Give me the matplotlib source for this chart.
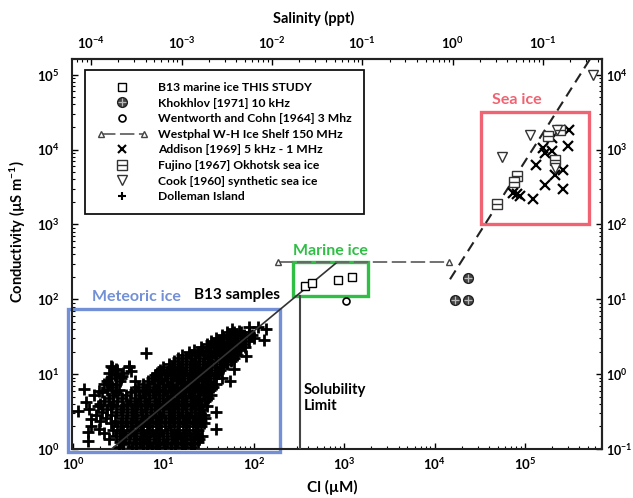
import numpy as np
import matplotlib
matplotlib.use("Agg")
import matplotlib.pyplot as plt
from matplotlib.lines import Line2D
from matplotlib.patches import Rectangle
from matplotlib.legend_handler import HandlerLine2D, HandlerTuple
from matplotlib.ticker import FixedLocator, FixedFormatter, LogLocator, NullFormatter

plt.rcParams["font.family"] = ["Lato", "DejaVu Sans"]
plt.rcParams["font.weight"] = "bold"
plt.rcParams["mathtext.fontset"] = "custom"
plt.rcParams["mathtext.rm"] = "Lato:bold"
plt.rcParams["mathtext.it"] = "Lato:bold"
plt.rcParams["mathtext.bf"] = "Lato:bold"

# ---------------- data: Cl (uM) vs conductivity (uS/m) ----------------
b13_cl = [368, 440, 853, 1220]
b13_cond = [149, 163, 179, 197]

khokhlov_cl = [23400, 16800, 23400]
khokhlov_cond = [190, 97, 97]

wentworth_cl = [1050]
wentworth_cond = [94]

westphal_cl = [185, 14500]
westphal_cond = [311, 311]

addison_cl = [3.09e5, 1.97e5, 3.0e5, 1.6e5, 1.97e5, 1.66e5, 2.65e5, 2.15e5,
              1.32e5, 1.66e5, 2.65e5, 7.4e4, 8.8e4, 8.1e4, 1.24e5]
addison_cond = [18500, 14300, 11100, 10500, 9500, 9000, 5400, 4640,
                6300, 3310, 2990, 2640, 2390, 2510, 2200]

fujino_cl = [1.81e5, 2.44e5, 2.15e5, 8.1e4, 7.6e4, 4.86e4]
fujino_cond = [15400, 18500, 7360, 4400, 3660, 1900]

cook_cl = [1.14e5, 5.52e4, 2.24e5, 2.15e5, 5.65e5]
cook_cond = [15800, 7900, 18500, 5700, 1.0e5]

# Dolleman Island firn samples: rows of (conductivity, [Cl values])
dolleman_rows = [
    (1.05, [3.2, 4.5, 6.0, 7.5, 9.0, 12, 16, 20]),
    (1.15, [3.6, 5.0, 6.6, 8.2, 10.5, 13.5, 17.5, 22]),
    (1.25, [3.3, 4.2, 5.5, 7.0, 9.0, 11, 14, 18, 24]),
    (1.37, [2.5, 3.5, 4.7, 6.0, 7.8, 9.8, 12.5, 15.5, 20, 25]),
    (1.5, [3.0, 3.8, 5.0, 6.5, 8.0, 10, 13, 17, 22, 27]),
    (1.65, [2.2, 3.3, 4.3, 5.6, 7.0, 8.8, 11, 14, 18, 23]),
    (1.8, [2.8, 3.6, 4.6, 6.0, 7.5, 9.5, 12, 15, 19, 24]),
    (2.0, [1.6, 3.1, 4.0, 5.2, 6.6, 8.3, 10.5, 13, 16.5, 21, 26]),
    (2.2, [2.6, 3.4, 4.4, 5.6, 7.0, 9.0, 11.5, 14.5, 18, 23, 28]),
    (2.4, [2.0, 2.9, 3.9, 5.0, 6.3, 8.2, 10.5, 13, 16.5, 21, 26]),
    (2.6, [2.3, 3.5, 4.5, 5.8, 7.5, 9.5, 12, 15, 19, 24, 29]),
    (2.85, [1.8, 2.6, 3.5, 4.6, 5.8, 7.3, 9.0, 11.5, 14.5, 18, 22.5, 28]),
    (3.1, [2.1, 3.0, 4.0, 5.0, 6.5, 8.0, 10, 13, 16, 20, 25]),
    (3.4, [1.5, 2.4, 3.4, 4.5, 5.7, 7.2, 9.0, 11.5, 14.5, 18, 22.5, 27]),
    (3.7, [1.9, 2.6, 3.6, 4.8, 6.2, 8.0, 10, 12.5, 16, 20, 25, 30]),
    (4.05, [2.0, 2.8, 4.0, 5.1, 6.6, 8.5, 10.8, 13.5, 17, 21, 26]),
    (4.4, [2.2, 3.1, 4.3, 5.5, 7.0, 9.0, 11.5, 14.5, 18, 23, 29]),
    (4.8, [2.5, 3.5, 4.9, 6.2, 8.0, 10, 12.5, 16, 20, 25, 31]),
    (5.2, [1.7, 2.8, 3.9, 5.4, 7.0, 9.0, 11, 14, 17.5, 22, 28, 34]),
    (5.7, [2.1, 3.0, 4.4, 5.9, 7.6, 9.8, 12, 15, 19, 24, 30]),
    (6.2, [2.4, 3.2, 4.8, 6.5, 8.2, 10.5, 13, 16.5, 21, 26, 33]),
    (6.8, [2.7, 5.3, 7.0, 9.0, 11.5, 14, 18, 22.5, 28, 35]),
    (7.4, [2.2, 3.0, 6.0, 7.8, 10, 12.5, 15.5, 19.5, 24, 30, 38]),
    (8.1, [2.4, 3.3, 6.8, 8.8, 11, 14, 17, 21.5, 27, 33]),
    (8.8, [2.6, 3.4, 7.5, 9.5, 12, 15, 18.5, 23, 29, 36, 44]),
    (9.6, [2.9, 8.0, 10.3, 13, 16, 20, 25, 31, 38]),
    (10.5, [2.5, 3.6, 8.5, 11, 13.5, 17, 21, 26, 32, 40]),
    (11.5, [3.1, 9.2, 11.8, 14.5, 18, 22.5, 28, 34, 42]),
    (12.5, [2.7, 4.2, 10, 12.5, 15.5, 19.5, 24, 30, 37, 46]),
    (13.7, [11.5, 14.5, 18, 22, 27.5, 34, 42, 50]),
    (15, [13, 16, 20, 25, 31, 38, 47, 56]),
    (16.5, [14.5, 18, 22.5, 28, 34, 42, 51, 60]),
    (18, [16, 20, 25, 31, 38, 46, 55, 66]),
    (19.5, [19, 24, 30, 36, 44, 53, 64]),
    (21, [22, 27, 33, 40, 48, 58, 70]),
    (23, [26, 32, 39, 47, 56, 68, 80]),
    (25, [30, 36, 43, 52, 62, 75]),
    (27.5, [34, 41, 50, 60, 72, 88]),
    (30, [38, 46, 55, 66, 80, 100]),
    (33, [44, 53, 64, 78, 95]),
    (36, [50, 60, 72, 88]),
]
dolleman_extra_cl = [6.4, 1.33, 1.39, 1.13, 1.58, 1.45, 1.45, 1.95, 2.63, 2.99,
                     4.2, 4.39, 1.95, 2.5, 3.5, 4.8, 38, 38, 54, 61, 82, 131,
                     136, 110, 89, 69, 58, 13.8, 17.8]
dolleman_extra_cond = [18.9, 6.3, 4.2, 3.2, 2.5, 1.69, 1.29, 1.85, 12.9, 11.7,
                       12.9, 11.1, 6.0, 7.4, 9.5, 8.1, 3.1, 1.85, 8.1, 11.7, 17.5,
                       29, 40, 42, 42, 38, 40, 1.43, 1.36]

# trend / reference lines
b13_trend_cl = [2.67, 832]
b13_trend_cond = [1.0, 312]
seawater_cl = [14800, 5.24e5]
seawater_cond = [185, 1.62e5]
solubility_cl = 324
solubility_cond_top = 110

# regions (Cl range, conductivity range)
meteoric_box = ((0.88, 195), (0.91, 73.6))
marine_box = ((272, 1833), (110, 311))
sea_box = ((32600, 510000), (1000, 32100))

salinity_per_cl = 6.3e-5
top_ticks = [1e-4, 1e-3, 1e-2, 1e-1, 1e0, 1e1]
top_labels = ["$10^{-4}$", "$10^{-3}$", "$10^{-2}$", "$10^{-1}$", "$10^{0}$", "$10^{-1}$"]
bottom_ticks = [1e0, 1e1, 1e2, 1e3, 1e4, 1e5]
bottom_labels = ["$10^{0}$", "$10^{1}$", "$10^{2}$", "$10^{3}$", "$10^{4}$", "$10^{5}$"]
left_ticks = [1e0, 1e1, 1e2, 1e3, 1e4, 1e5]
left_labels = ["$10^{0}$", "$10^{1}$", "$10^{2}$", "$10^{3}$", "$10^{4}$", "$10^{5}$"]
right_ticks = [1e-1, 1e0, 1e1, 1e2, 1e3, 1e4]
right_labels = ["$10^{-1}$", "$10^{0}$", "$10^{1}$", "$10^{2}$", "$10^{3}$", "$10^{4}$"]

BLUE = "#7390d6"
GREEN = "#2fbf45"
RED = "#ef6372"
DARK = "#222222"
TICK_FS = 9.5

fig = plt.figure(figsize=(6.33, 4.98), dpi=100)
ax = fig.add_axes([72 / 633, 49 / 498, 530 / 633, 390 / 498])
ax.set_xscale("log")
ax.set_yscale("log")
ax.set_xlim(0.975, 7.1e5)
ax.set_ylim(1.0, 1.62e5)

# Dolleman Island cloud
dol_cl, dol_cond = [], []
for cond, cls in dolleman_rows:
    dol_cl.extend(cls)
    dol_cond.extend([cond] * len(cls))
dol_cl += dolleman_extra_cl
dol_cond += dolleman_extra_cond
ax.plot(dol_cl, dol_cond, ls="none", marker="+", ms=8, mew=2.0, color="k", zorder=3)

# region boxes
for (x0, x1), (y0, y1), col in [(meteoric_box[0], meteoric_box[1], BLUE),
                                (marine_box[0], marine_box[1], GREEN),
                                (sea_box[0], sea_box[1], RED)]:
    ax.add_patch(Rectangle((x0, y0), x1 - x0, y1 - y0, fill=False, ec=col,
                           lw=2.4, zorder=2, clip_on=False))

# reference lines
ax.plot(b13_trend_cl, b13_trend_cond, color="#333", lw=1.2, zorder=4)
ax.plot([solubility_cl, solubility_cl], [1.0, solubility_cond_top], color="#444", lw=1.5, zorder=4)
ax.plot(seawater_cl, seawater_cond, color="#222", lw=1.5, ls=(0, (5, 3)), zorder=4)
ax.plot(westphal_cl, westphal_cond, color="#666", lw=1.3, ls=(0, (8, 2.5)),
        marker="^", ms=5, mfc="white", mec="#444", mew=1, zorder=4)

# measurements
ax.plot(b13_cl, b13_cond, ls="none", marker="s", ms=6, mfc="white", mec="k", mew=1, zorder=5)
ax.plot(khokhlov_cl, khokhlov_cond, ls="none", marker="o", ms=7, mfc="#444", mec="#222", zorder=5)
ax.plot(khokhlov_cl, khokhlov_cond, ls="none", marker="+", ms=6, mec="#bbb", mew=0.9, zorder=6)
ax.plot(wentworth_cl, wentworth_cond, ls="none", marker="o", ms=5, mfc="white", mec="k", mew=1.2, zorder=5)
ax.plot(addison_cl, addison_cond, ls="none", marker="x", ms=7, mew=1.6, color="k", zorder=5)
ax.plot(fujino_cl, fujino_cond, ls="none", marker="s", ms=7, mfc="white", mec="#333", mew=1, zorder=5)
ax.plot(fujino_cl, fujino_cond, ls="none", marker="_", ms=7, mec="#333", mew=1, zorder=6)
ax.plot(cook_cl, cook_cond, ls="none", marker="v", ms=6.5, mfc="white", mec="#333", mew=1, zorder=5)

# region labels
ax.text(8.15e4, 46400, "Sea ice", color=RED, fontsize=11.5, ha="center", va="center")
ax.text(697, 437, "Marine ice", color=GREEN, fontsize=11.5, ha="center", va="center")
ax.text(5.0, 106, "Meteoric ice", color=BLUE, fontsize=11.5, ha="center", va="center")
ax.text(65, 113, "B13 samples", color="k", fontsize=11, ha="center", va="center")
ax.text(359, 4.8, "Solubility\nLimit", color="k", fontsize=10.8, ha="left", va="center",
        linespacing=1.2)

# ticks on all four sides
ax.xaxis.set_major_locator(FixedLocator(bottom_ticks))
ax.xaxis.set_major_formatter(FixedFormatter(bottom_labels))
ax.yaxis.set_major_locator(FixedLocator(left_ticks))
ax.yaxis.set_major_formatter(FixedFormatter(left_labels))
ax.xaxis.set_minor_locator(LogLocator(base=10, subs=np.arange(2, 10), numticks=20))
ax.yaxis.set_minor_locator(LogLocator(base=10, subs=np.arange(2, 10), numticks=20))
ax.xaxis.set_minor_formatter(NullFormatter())
ax.yaxis.set_minor_formatter(NullFormatter())
ax.tick_params(axis="x", which="major", direction="in", length=4, width=1, labelsize=TICK_FS, pad=5)
ax.tick_params(axis="y", which="major", direction="in", length=4, width=1, labelsize=TICK_FS, pad=9)
ax.tick_params(which="minor", direction="in", length=2, width=0.8)

secx = ax.secondary_xaxis("top", functions=(lambda c: c * salinity_per_cl,
                                            lambda s: s / salinity_per_cl))
secx.set_xscale("log")
secx.xaxis.set_major_locator(FixedLocator(top_ticks))
secx.xaxis.set_major_formatter(FixedFormatter(top_labels))
secx.xaxis.set_minor_locator(LogLocator(base=10, subs=np.arange(2, 10), numticks=20))
secx.xaxis.set_minor_formatter(NullFormatter())
secx.tick_params(which="major", direction="in", length=4, width=1, labelsize=TICK_FS, pad=6)
secx.tick_params(which="minor", direction="in", length=2, width=0.8)

secy = ax.secondary_yaxis("right", functions=(lambda c: c * 0.1, lambda c: c * 10))
secy.set_yscale("log")
secy.yaxis.set_major_locator(FixedLocator(right_ticks))
secy.yaxis.set_major_formatter(FixedFormatter(right_labels))
secy.yaxis.set_minor_locator(LogLocator(base=10, subs=np.arange(2, 10), numticks=20))
secy.yaxis.set_minor_formatter(NullFormatter())
secy.tick_params(which="major", direction="in", length=4, width=1, labelsize=9, pad=3)
secy.tick_params(which="minor", direction="in", length=2, width=0.8)

for sp in list(ax.spines.values()) + [secx.spines["top"], secy.spines["right"]]:
    sp.set_linewidth(1.5)
    sp.set_color(DARK)

# axis titles
fig.text(314 / 633, 1 - 18 / 498, "Salinity (ppt)", fontsize=10.5, ha="center", va="center")
fig.text(332 / 633, 1 - 487 / 498, "Cl (µM)", fontsize=11, ha="center", va="center")
fig.text(18 / 633, 1 - 232 / 498, "Conductivity (µS m$^{-1}$)", fontsize=10.5,
         ha="center", va="center", rotation=90)

# legend
h_b13 = Line2D([], [], ls="none", marker="s", ms=6, mfc="white", mec="k", mew=1)
h_kh = (Line2D([], [], ls="none", marker="o", ms=7, mfc="#444", mec="#222"),
        Line2D([], [], ls="none", marker="+", ms=6, mec="#bbb", mew=0.9))
h_we = Line2D([], [], ls="none", marker="o", ms=5, mfc="white", mec="k", mew=1.2)
h_wp = Line2D([], [], color="#666", lw=1.3, ls=(0, (8, 2.5)), marker="^", ms=5,
              mfc="white", mec="#444", mew=1)
h_ad = Line2D([], [], ls="none", marker="x", ms=6, mew=1.5, color="k")
h_fu = (Line2D([], [], ls="none", marker="s", ms=7, mfc="white", mec="#333", mew=1),
        Line2D([], [], ls="none", marker="_", ms=7, mec="#333", mew=1))
h_co = Line2D([], [], ls="none", marker="v", ms=6.5, mfc="white", mec="#333", mew=1)
h_do = Line2D([], [], ls="none", marker="+", ms=6, mew=1.5, color="k")
labels = ["B13 marine ice THIS STUDY", "Khokhlov [1971] 10 kHz",
          "Wentworth and Cohn [1964] 3 Mhz", "Westphal W-H Ice Shelf 150 MHz",
          "Addison [1969] 5 kHz - 1 MHz", "Fujino [1967] Okhotsk sea ice",
          "Cook [1960] synthetic sea ice", "Dolleman Island"]
leg = ax.legend([h_b13, h_kh, h_we, h_wp, h_ad, h_fu, h_co, h_do], labels,
                handler_map={h_wp: HandlerLine2D(numpoints=2), tuple: HandlerTuple(ndivide=1)},
                loc="upper left", bbox_to_anchor=(0.0245, 0.972), borderaxespad=0,
                fontsize=8.7, handlelength=4.2, handletextpad=0.85, labelspacing=0.38,
                borderpad=1.0, frameon=True, fancybox=False, framealpha=1,
                edgecolor="#111", numpoints=1)
leg.get_frame().set_linewidth(1.3)
leg.set_zorder(10)

fig.savefig("out.png", dpi=100)
